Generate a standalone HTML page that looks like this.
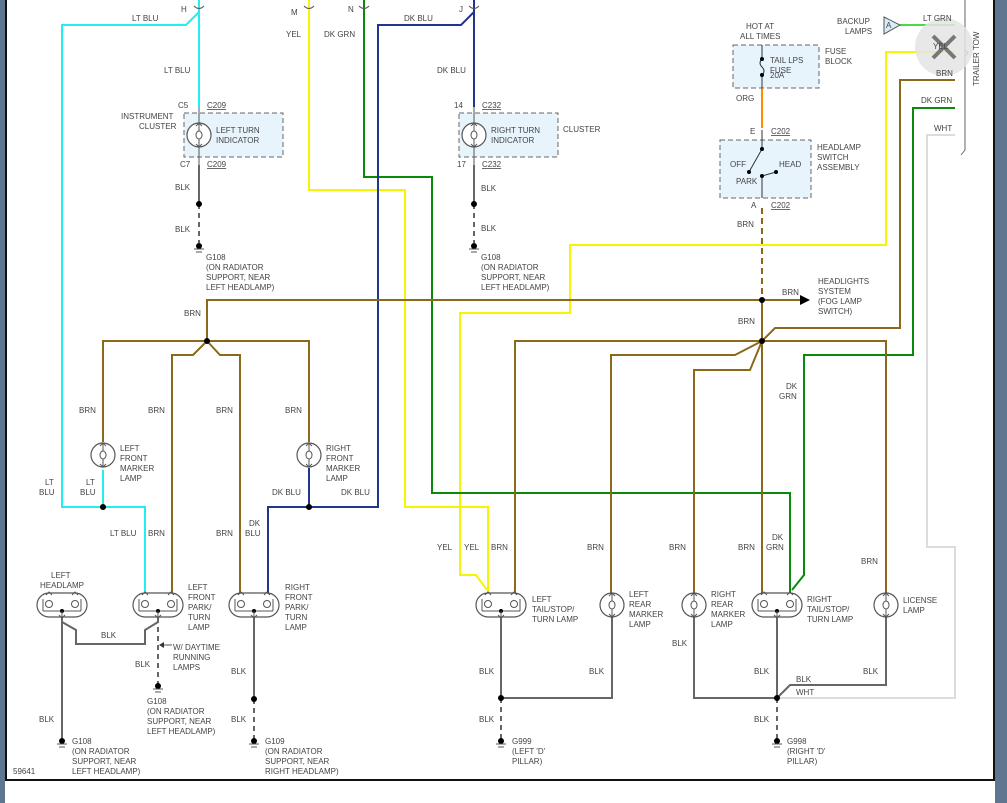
<!DOCTYPE html>
<html><head><meta charset="utf-8"><style>
html,body{margin:0;padding:0;background:#fff;}
svg{display:block;}
text{font-family:"Liberation Sans",sans-serif;font-size:8px;fill:#444;}
</style></head><body>
<svg width="1007" height="803" viewBox="0 0 1007 803" xmlns="http://www.w3.org/2000/svg">
<defs>
<g id="oval">
<rect x="-25" y="-12" width="50" height="24" rx="12" fill="#fff" stroke="#555" stroke-width="1.2"/>
<path d="M-19,6 H19 M-19,6 V-6 M19,6 V-6" stroke="#555" fill="none" stroke-width="1"/>
<circle cx="-13" cy="-1" r="3.5" fill="none" stroke="#555" stroke-width="1"/>
<circle cx="13" cy="-1" r="3.5" fill="none" stroke="#555" stroke-width="1"/>
<path d="M-16,-10 L-13,-13 L-10,-10 M10,-10 L13,-13 L16,-10" stroke="#555" fill="none" stroke-width="1"/>
<circle cx="0" cy="6" r="2" fill="#000"/>
<path d="M0,6 V12 M-3,10 L0,13 L3,10" stroke="#555" fill="none" stroke-width="1"/>
</g>
<g id="bulb">
<circle r="12" fill="#fff" stroke="#555" stroke-width="1.2"/>
<path d="M0,-12 V-4 M0,4 V12 M-3,-9 L0,-12 L3,-9 M-3,9 L0,12 L3,9" stroke="#555" fill="none" stroke-width="1"/>
<ellipse cx="0" cy="0" rx="3" ry="4" fill="none" stroke="#555" stroke-width="1"/>
</g>
<g id="gnd">
<circle r="3" fill="#000"/>
<path d="M-5,3 H5 M-3,6 H3" stroke="#555" stroke-width="1"/>
</g>
</defs>

<!-- frame -->
<rect x="0" y="0" width="5" height="803" fill="#5f7690"/>
<rect x="5" y="0" width="2" height="781" fill="#111"/>
<rect x="995" y="0" width="12" height="803" fill="#5f7690"/>
<rect x="993" y="0" width="2" height="781" fill="#111"/>
<rect x="5" y="779" width="990" height="2" fill="#111"/>

<g fill="none" stroke-width="2">
<!-- LT BLU -->
<path d="M199,0 V107 M199,12 L186,25 H62 V507 H145 V593 M103,470 V507" stroke="#22eeee"/>
<!-- YEL -->
<path d="M309,0 V190 H405 V507 H488 V593 M955,52 H886 V245 H570 V313 H460 V575 H476 L487,590" stroke="#f5f500"/>
<!-- DK GRN -->
<path d="M364,0 V177 H432 V493 H790 V593 M955,108 H913 V355 H804 V575 L792,590" stroke="#0a8a0a"/>
<!-- DK BLU -->
<path d="M474,0 V107 M474,12 L461,25 H378 V507 H268 V593 M309,468 V507" stroke="#1f3590"/>
<!-- WHT -->
<path d="M955,135 H927 V547 H955 V698 H780" stroke="#dcdcdc"/>
<!-- LT GRN -->
<path d="M900,25 H955" stroke="#44dd44"/>
<!-- ORG -->
<path d="M762,88 V128" stroke="#ff8c00"/>
<!-- BRN -->
<g stroke="#8a6a1a">
<path d="M762,300 H207 V341 M207,341 H103 V442 M207,341 H309 V442 M207,341 L193,355 H172 V593 M207,341 L220,355 H240 V593"/>
<path d="M762,300 V593 M762,300 H800 M762,341 H515 V593 M762,341 H886 V593 M762,341 L735,355 H611 V593 M762,341 L750,370 H694 V593 M762,341 L775,328 H900 V80 H955"/>
<path d="M762,208 V300" stroke-dasharray="6,4"/>
</g>
<!-- BLK -->
<g stroke="#666">
<path d="M199,165 V204 M474,165 V204"/>
<path d="M199,204 V243 M474,204 V243" stroke-dasharray="5,4"/>
<path d="M62,617 V740 M62,622 L76,630 V644 H145 V630 L158,622"/>
<path d="M158,618 V685" stroke-dasharray="5,4"/>
<path d="M254,618 V699"/><path d="M254,699 V740" stroke-dasharray="5,4"/>
<path d="M501,618 V698 H612 V617"/><path d="M501,698 V740" stroke-dasharray="5,4"/>
<path d="M777,618 V698 H694 V617 M777,698 L790,685 H886 V617"/><path d="M777,698 V740" stroke-dasharray="5,4"/>
</g>
</g>
<path d="M160,645 L172,645" stroke="#555" stroke-width="1"/>
<path d="M159,645 L164,642 L164,648 Z" fill="#333"/>
<path d="M810,300 L800,295 L800,305 Z" fill="#000"/>

<!-- nodes -->
<g fill="#000">
<circle cx="103" cy="507" r="3"/><circle cx="309" cy="507" r="3"/>
<circle cx="207" cy="341" r="3"/><circle cx="762" cy="341" r="3"/><circle cx="762" cy="300" r="3"/>
<circle cx="199" cy="204" r="3"/><circle cx="474" cy="204" r="3"/>
<circle cx="254" cy="699" r="3"/><circle cx="501" cy="698" r="3"/><circle cx="777" cy="698" r="3"/>
</g>
<use href="#gnd" x="199" y="246"/><use href="#gnd" x="474" y="246"/>
<use href="#gnd" x="158" y="686"/><use href="#gnd" x="62" y="741"/><use href="#gnd" x="254" y="741"/>
<use href="#gnd" x="501" y="741"/><use href="#gnd" x="777" y="741"/>

<!-- top connector marks -->
<g stroke="#555" fill="none" stroke-width="1">
<path d="M194,6 Q199,11 204,6 M304,6 Q309,11 314,6 M359,6 Q364,11 369,6 M469,6 Q474,11 479,6"/>
</g>

<!-- boxes -->
<rect x="184" y="113" width="99" height="44" fill="#e8f4fc" stroke="#666" stroke-dasharray="5,3"/>
<rect x="459" y="113" width="99" height="44" fill="#e8f4fc" stroke="#666" stroke-dasharray="5,3"/>
<rect x="733" y="45" width="86" height="43" fill="#e8f4fc" stroke="#666" stroke-dasharray="5,3"/>
<rect x="720" y="140" width="91" height="58" fill="#e8f4fc" stroke="#666" stroke-dasharray="5,3"/>
<path d="M199,107 V165 M474,107 V165" stroke="#555"/>
<use href="#bulb" x="199" y="135"/><use href="#bulb" x="474" y="135"/>
<path d="M762,45 V57 M762,75 V88 M762,59 Q758,63 762,67 Q766,71 762,75" stroke="#333" fill="none"/>
<circle cx="762" cy="59" r="2" fill="#000"/><circle cx="762" cy="75" r="2" fill="#000"/>
<path d="M762,130 V149 M762,149 L749,172 M762,176 V198 M762,176 L776,172" stroke="#333" fill="none"/>
<circle cx="762" cy="149" r="2" fill="#000"/><circle cx="749" cy="172" r="2" fill="#000"/><circle cx="762" cy="176" r="2" fill="#000"/><circle cx="776" cy="172" r="2" fill="#000"/>

<!-- lamps -->
<use href="#oval" x="62" y="605"/><use href="#oval" x="158" y="605"/><use href="#oval" x="254" y="605"/>
<use href="#oval" x="501" y="605"/><use href="#oval" x="777" y="605"/>
<use href="#bulb" x="612" y="605"/><use href="#bulb" x="694" y="605"/><use href="#bulb" x="886" y="605"/>
<use href="#bulb" x="103" y="455"/><use href="#bulb" x="309" y="455"/>

<!-- backup triangle / trailer -->
<path d="M884,17 L900,25 L884,34 Z" fill="#d8ecf8" stroke="#555"/>
<text x="886" y="28">A</text>
<path d="M965,0 V150 L961,155 M965,50 L968,53 L965,56" stroke="#666" fill="none"/>
<text transform="translate(979,86) rotate(-90)">TRAILER TOW</text>
<circle cx="944" cy="47" r="29" fill="#e4e4e4" opacity="0.85"/>
<path d="M933,36 L955,58 M955,36 L933,58" stroke="#777" stroke-width="4"/>

<!-- labels -->
<text x="132" y="21">LT BLU</text><text x="181" y="12">H</text>
<text x="291" y="15">M</text><text x="348" y="12">N</text><text x="459" y="12">J</text>
<text x="404" y="21">DK BLU</text><text x="286" y="37">YEL</text><text x="324" y="37">DK GRN</text>
<text x="164" y="73">LT BLU</text><text x="437" y="73">DK BLU</text>
<text x="178" y="108">C5</text><text x="207" y="108" text-decoration="underline">C209</text>
<text x="180" y="167">C7</text><text x="207" y="167" text-decoration="underline">C209</text>
<text x="121" y="119">INSTRUMENT</text><text x="139" y="129">CLUSTER</text>
<text x="216" y="133">LEFT TURN</text><text x="216" y="143">INDICATOR</text>
<text x="454" y="108">14</text><text x="482" y="108" text-decoration="underline">C232</text>
<text x="457" y="167">17</text><text x="482" y="167" text-decoration="underline">C232</text>
<text x="491" y="133">RIGHT TURN</text><text x="491" y="143">INDICATOR</text><text x="563" y="132">CLUSTER</text>
<text x="175" y="190">BLK</text><text x="175" y="232">BLK</text>
<text x="481" y="191">BLK</text><text x="481" y="231">BLK</text>
<text x="206" y="260">G108</text><text x="206" y="270">(ON RADIATOR</text><text x="206" y="280">SUPPORT, NEAR</text><text x="206" y="290">LEFT HEADLAMP)</text>
<text x="481" y="260">G108</text><text x="481" y="270">(ON RADIATOR</text><text x="481" y="280">SUPPORT, NEAR</text><text x="481" y="290">LEFT HEADLAMP)</text>
<text x="746" y="29">HOT AT</text><text x="740" y="39">ALL TIMES</text>
<text x="770" y="63">TAIL LPS</text><text x="770" y="73">FUSE</text><text x="770" y="78">20A</text>
<text x="825" y="54">FUSE</text><text x="825" y="64">BLOCK</text>
<text x="736" y="101">ORG</text><text x="750" y="134">E</text><text x="771" y="134" text-decoration="underline">C202</text>
<text x="817" y="150">HEADLAMP</text><text x="817" y="160">SWITCH</text><text x="817" y="170">ASSEMBLY</text>
<text x="730" y="167">OFF</text><text x="779" y="167">HEAD</text><text x="736" y="184">PARK</text>
<text x="751" y="208">A</text><text x="771" y="208" text-decoration="underline">C202</text>
<text x="737" y="227">BRN</text>
<text x="837" y="24">BACKUP</text><text x="845" y="34">LAMPS</text>
<text x="923" y="21">LT GRN</text><text x="933" y="49" fill="#888">YEL</text><text x="936" y="76" fill="#999">BRN</text>
<text x="921" y="103">DK GRN</text><text x="934" y="131">WHT</text>
<text x="782" y="295">BRN</text>
<text x="818" y="284">HEADLIGHTS</text><text x="818" y="294">SYSTEM</text><text x="818" y="304">(FOG LAMP</text><text x="818" y="314">SWITCH)</text>
<text x="738" y="324">BRN</text><text x="184" y="316">BRN</text>
<text x="786" y="389">DK</text><text x="779" y="399">GRN</text>
<text x="79" y="413">BRN</text><text x="148" y="413">BRN</text><text x="216" y="413">BRN</text><text x="285" y="413">BRN</text>
<text x="120" y="451">LEFT</text><text x="120" y="461">FRONT</text><text x="120" y="471">MARKER</text><text x="120" y="481">LAMP</text>
<text x="326" y="451">RIGHT</text><text x="326" y="461">FRONT</text><text x="326" y="471">MARKER</text><text x="326" y="481">LAMP</text>
<text x="45" y="485">LT</text><text x="39" y="495">BLU</text><text x="86" y="485">LT</text><text x="80" y="495">BLU</text>
<text x="272" y="495">DK BLU</text><text x="341" y="495">DK BLU</text>
<text x="110" y="536">LT BLU</text><text x="148" y="536">BRN</text><text x="216" y="536">BRN</text>
<text x="249" y="526">DK</text><text x="245" y="536">BLU</text>
<text x="437" y="550">YEL</text><text x="464" y="550">YEL</text><text x="491" y="550">BRN</text>
<text x="587" y="550">BRN</text><text x="669" y="550">BRN</text><text x="738" y="550">BRN</text>
<text x="772" y="540">DK</text><text x="766" y="550">GRN</text><text x="861" y="564">BRN</text>
<text x="51" y="578">LEFT</text><text x="40" y="588">HEADLAMP</text>
<text x="188" y="590">LEFT</text><text x="188" y="600">FRONT</text><text x="188" y="610">PARK/</text><text x="188" y="620">TURN</text><text x="188" y="630">LAMP</text>
<text x="285" y="590">RIGHT</text><text x="285" y="600">FRONT</text><text x="285" y="610">PARK/</text><text x="285" y="620">TURN</text><text x="285" y="630">LAMP</text>
<text x="532" y="602">LEFT</text><text x="532" y="612">TAIL/STOP/</text><text x="532" y="622">TURN LAMP</text>
<text x="629" y="597">LEFT</text><text x="629" y="607">REAR</text><text x="629" y="617">MARKER</text><text x="629" y="627">LAMP</text>
<text x="711" y="597">RIGHT</text><text x="711" y="607">REAR</text><text x="711" y="617">MARKER</text><text x="711" y="627">LAMP</text>
<text x="807" y="602">RIGHT</text><text x="807" y="612">TAIL/STOP/</text><text x="807" y="622">TURN LAMP</text>
<text x="903" y="603">LICENSE</text><text x="903" y="613">LAMP</text>
<text x="101" y="638">BLK</text>
<text x="173" y="650">W/ DAYTIME</text><text x="173" y="660">RUNNING</text><text x="173" y="670">LAMPS</text>
<text x="135" y="667">BLK</text><text x="231" y="674">BLK</text><text x="231" y="722">BLK</text>
<text x="39" y="722">BLK</text>
<text x="147" y="704">G108</text><text x="147" y="714">(ON RADIATOR</text><text x="147" y="724">SUPPORT, NEAR</text><text x="147" y="734">LEFT HEADLAMP)</text>
<text x="72" y="744">G108</text><text x="72" y="754">(ON RADIATOR</text><text x="72" y="764">SUPPORT, NEAR</text><text x="72" y="774">LEFT HEADLAMP)</text>
<text x="265" y="744">G109</text><text x="265" y="754">(ON RADIATOR</text><text x="265" y="764">SUPPORT, NEAR</text><text x="265" y="774">RIGHT HEADLAMP)</text>
<text x="13" y="774">59641</text>
<text x="479" y="674">BLK</text><text x="589" y="674">BLK</text><text x="479" y="722">BLK</text>
<text x="672" y="646">BLK</text><text x="754" y="674">BLK</text><text x="863" y="674">BLK</text>
<text x="796" y="682">BLK</text><text x="796" y="695">WHT</text><text x="754" y="722">BLK</text>
<text x="512" y="744">G999</text><text x="512" y="754">(LEFT 'D'</text><text x="512" y="764">PILLAR)</text>
<text x="787" y="744">G998</text><text x="787" y="754">(RIGHT 'D'</text><text x="787" y="764">PILLAR)</text>
</svg>
</body></html>
